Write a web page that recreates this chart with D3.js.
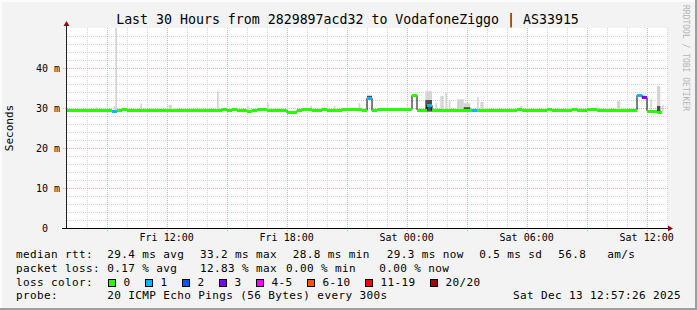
<!DOCTYPE html>
<html>
<head>
<meta charset="utf-8">
<script src="https://cdn.jsdelivr.net/npm/d3@7"></script>
<style>
  body { margin: 0; background: #fff; }
  svg { display: block; }
  text { font-family: "DejaVu Sans Mono", monospace; white-space: pre; }
</style>
</head>
<body>
<div id="chart"></div>
<script>
// smokeping style rtt graph, 30 hours

const title = "Last 30 Hours from 2829897acd32 to VodafoneZiggo | AS33915";
const startTime = new Date(Date.UTC(2025, 11, 12, 7, 1));
const endTime = new Date(Date.UTC(2025, 11, 13, 13, 1));

// median rtt (ms), one value per 15 minutes
const stepMin = 15;
const medianMs = [
  29.4, 29.4, 29.3, 29.4, 29.4, 29.4, 29.3, 29.4, 29.4, 29.1,
  29.4, 29.7, 29.4, 29.4, 29.4, 29.4, 29.4, 29.4, 29.4, 29.4,
  29.4, 29.4, 29.4, 29.4, 29.4, 29.4, 29.4, 29.4, 29.4, 29.4,
  29.4, 29.6, 29.4, 29.6, 29.4, 29.4, 29.2, 29.4, 29.6, 29.6,
  29.4, 29.4, 29.4, 29.4, 28.8, 29.0, 29.4, 29.6, 29.6, 29.4,
  29.4, 29.6, 29.4, 29.4, 29.4, 29.6, 29.6, 29.6, 29.6, 29.4,
  32.5, 29.3, 29.6, 29.6, 29.6, 29.6, 29.6, 29.6, 29.6, 33.2,
  29.5, 29.4, 30.7, 29.4, 29.4, 29.4, 29.4, 29.4, 29.4, 29.4,
  29.4, 29.3, 29.4, 29.4, 29.4, 29.4, 29.4, 29.4, 29.4, 29.4,
  29.6, 29.4, 29.4, 29.4, 29.4, 29.4, 29.6, 29.4, 29.4, 29.4,
  29.4, 29.6, 29.4, 29.4, 29.6, 29.6, 29.4, 29.4, 29.4, 29.4,
  29.5, 29.5, 29.5, 29.5, 33.2, 32.6, 29.2, 29.2, 29.0, null
];
// lost pings out of 20, same steps
const lossPings = [
  0, 0, 0, 0, 0, 0, 0, 0, 0, 1,
  0, 0, 0, 0, 0, 0, 0, 0, 0, 0,
  0, 0, 0, 0, 0, 0, 0, 0, 0, 0,
  0, 0, 0, 0, 0, 0, 0, 0, 0, 0,
  0, 0, 0, 0, 0, 0, 0, 0, 0, 0,
  0, 0, 0, 0, 0, 0, 0, 0, 0, 0,
  1, 0, 0, 0, 0, 0, 0, 0, 0, 0,
  0, 0, 1, 0, 0, 0, 0, 0, 0, 0,
  0, 1, 0, 0, 0, 0, 0, 0, 0, 0,
  0, 0, 0, 0, 0, 0, 0, 0, 0, 0,
  0, 0, 0, 0, 0, 0, 0, 0, 0, 0,
  0, 0, 0, 0, 1, 3, 0, 0, 0, 0
];

// smoke (spread of the 20 pings), only where it shows above the median
const smokeStep = 5;   // minutes per smoke slot
const smokeAt   = [17, 28, 29, 35, 44, 51, 61, 77, 80, 90, 108, 120, 126, 146, 160, 175, 177, 180,
                   212, 215, 221, 224, 227, 229, 234, 238, 246, 248, 272, 318, 330, 342, 350, 354, 357];
const smokeLen  = [1, 1, 1, 1, 1, 1, 2, 1, 1, 1, 1, 1, 1, 1, 1, 1, 1, 3,
                   1, 4, 1, 2, 1, 1, 4, 4, 1, 2, 1, 1, 2, 5, 1, 2, 1];
const smokeHi   = [30.3, 30.5, 55, 29.9, 31.1, 29.9, 30.8, 30.0, 30.0, 34.3, 30.5, 31.3, 30.0, 30.5, 30.5, 31.2, 30.0, 33.3,
                   29.9, 34.2, 31.2, 33.0, 33.9, 32.0, 32.2, 31.2, 32.8, 31.5, 30.5, 30.3, 31.7, 33.4, 32.3, 35.5, 30.8];
const smokeDark = [0, 0, 0, 0, 0, 0, 0, 0, 0, 0, 0, 0, 0, 0, 0, 0, 0, 33.0,
                   0, 32.0, 0, 0, 0, 0, 0, 30.2, 0, 0, 0, 0, 0, 0, 0, 30.5, 0];

const yTicks = [0, 10, 20, 30, 40];
const yTickLabels = ["0  ", "10 m", "20 m", "30 m", "40 m"];

const lossLabels = ["0", "1", "2", "3", "4-5", "6-10", "11-19", "20/20"];
const lossColors = ["#26ff00", "#00b8ff", "#0059ff", "#7e00ff", "#ff00ff", "#ff5500", "#ff0000", "#a10000"];

const rttStats = ["29.4 ms avg", "33.2 ms max", "28.8 ms min", "29.3 ms now", "0.5 ms sd", "56.8   am/s"];
const lossStats = ["0.17 % avg", "12.83 % max", "0.00 % min", "0.00 % now"];
const probeText = "20 ICMP Echo Pings (56 Bytes) every 300s";
const stampText = "Sat Dec 13 12:57:26 2025";

const width = 697, height = 310;
const plot = { left: 67, right: 667, top: 28, bottom: 228 };

const svg = d3.select("#chart").append("svg")
  .attr("width", width)
  .attr("height", height);

// ---------- frame ----------
svg.append("rect").attr("width", width).attr("height", height).attr("fill", "#f3f3f3");
svg.append("rect").attr("x", 0).attr("y", 0).attr("width", width).attr("height", 2).attr("fill", "#fcfcfc");
svg.append("rect").attr("x", 0).attr("y", 0).attr("width", 2).attr("height", height).attr("fill", "#fcfcfc");
svg.append("rect").attr("x", 0).attr("y", height - 2).attr("width", width).attr("height", 2).attr("fill", "#9e9e9e");
svg.append("rect").attr("x", width - 2).attr("y", 0).attr("width", 2).attr("height", height).attr("fill", "#9e9e9e");

svg.append("rect")
  .attr("x", plot.left).attr("y", plot.top)
  .attr("width", plot.right - plot.left + 1)
  .attr("height", plot.bottom - plot.top)
  .attr("fill", "#fff");

const x = d3.scaleUtc().domain([startTime, endTime]).range([plot.left, plot.right]);
const y = d3.scaleLinear().domain([0, 50]).range([plot.bottom, plot.top]);
const px = v => Math.round(v) + 0.5;

// ---------- grid ----------
const grid = svg.append("g").attr("stroke-dasharray", "1,1").attr("stroke-width", 1);

grid.selectAll("line.vmin")
  .data(d3.utcHour.every(1).range(startTime, endTime))
  .join("line")
  .attr("x1", d => px(x(d))).attr("x2", d => px(x(d)))
  .attr("y1", plot.top).attr("y2", plot.bottom)
  .attr("stroke", "#d2d2d2");

grid.selectAll("line.hmin")
  .data(d3.range(2, 50, 2).filter(v => v % 10 !== 0))
  .join("line")
  .attr("x1", plot.left).attr("x2", plot.right + 1)
  .attr("y1", d => px(y(d))).attr("y2", d => px(y(d)))
  .attr("stroke", "#d2d2d2");

grid.selectAll("line.vmaj")
  .data(d3.utcHour.every(3).range(startTime, endTime))
  .join("line")
  .attr("x1", d => px(x(d))).attr("x2", d => px(x(d)))
  .attr("y1", plot.top).attr("y2", plot.bottom + 3)
  .attr("stroke", "#f7a5a5");

grid.selectAll("line.hmaj")
  .data(yTicks.filter(v => v > 0))
  .join("line")
  .attr("x1", plot.left - 4).attr("x2", plot.right + 1)
  .attr("y1", d => px(y(d))).attr("y2", d => px(y(d)))
  .attr("stroke", "#f7a5a5");

// ---------- smoke ----------
const tAt = i => new Date(startTime.getTime() + i * stepMin * 60000);
const sAt = k => new Date(startTime.getTime() + k * smokeStep * 60000);
const medianAtSlot = k => {
  const i = Math.floor(k * smokeStep / stepMin);
  return medianMs[i] == null ? 29.4 : medianMs[i];
};

const smoke = smokeAt.map((k, j) => ({
  t0: sAt(k), t1: sAt(k + smokeLen[j]),
  lo: medianAtSlot(k) - 0.3,
  hi: smokeHi[j], dark: smokeDark[j]
}));

const smokeG = svg.append("g");
smokeG.selectAll("rect.light")
  .data(smoke)
  .join("rect")
  .attr("x", d => x(d.t0))
  .attr("width", d => x(d.t1) - x(d.t0))
  .attr("y", d => Math.max(plot.top, y(d.hi)))
  .attr("height", d => y(d.lo) - Math.max(plot.top, y(d.hi)))
  .attr("fill", "#d4d4d4");

smokeG.selectAll("rect.dark")
  .data(smoke.filter(d => d.dark > 0))
  .join("rect")
  .attr("x", d => x(d.t0))
  .attr("width", d => x(d.t1) - x(d.t0))
  .attr("y", d => y(d.dark))
  .attr("height", d => y(d.lo) - y(d.dark))
  .attr("fill", "#4d4d4d");

// ---------- median ----------
const samples = medianMs.map((m, i) => ({ t0: tAt(i), t1: tAt(i + 1), m, loss: lossPings[i] }))
  .filter(d => d.m != null);

const steps = [];
samples.forEach(d => { steps.push([d.t0, d.m]); steps.push([d.t1, d.m]); });

svg.append("path")
  .datum(steps)
  .attr("fill", "none")
  .attr("stroke", "#000")
  .attr("stroke-width", 1)
  .attr("d", d3.line().x(d => x(d[0])).y(d => y(d[1])));

const lossBin = n => n === 0 ? 0 : n === 1 ? 1 : n === 2 ? 2 : n === 3 ? 3 :
  n <= 5 ? 4 : n <= 10 ? 5 : n <= 19 ? 6 : 7;

svg.append("g")
  .selectAll("rect")
  .data(samples)
  .join("rect")
  .attr("x", d => x(d.t0))
  .attr("width", d => x(d.t1) - x(d.t0))
  .attr("y", d => y(d.m) - 1.5)
  .attr("height", 3)
  .attr("fill", d => lossColors[lossBin(d.loss)])
  .attr("shape-rendering", "crispEdges");

// ---------- axes ----------
svg.append("line")
  .attr("x1", plot.left - 0.5).attr("x2", plot.left - 0.5)
  .attr("y1", plot.bottom + 0.5).attr("y2", plot.top - 4)
  .attr("stroke", "#222");
svg.append("line")
  .attr("x1", plot.left - 3).attr("x2", plot.right + 3)
  .attr("y1", plot.bottom + 0.5).attr("y2", plot.bottom + 0.5)
  .attr("stroke", "#000");
svg.append("line")
  .attr("x1", plot.left - 5).attr("x2", plot.left)
  .attr("y1", plot.bottom + 0.5).attr("y2", plot.bottom + 0.5)
  .attr("stroke", "#000");

svg.append("path")
  .attr("d", `M${plot.left - 0.5},${plot.top - 7} l3,5 h-6 z`)
  .attr("fill", "#8b1010");
svg.append("path")
  .attr("d", `M${plot.right + 6},${plot.bottom + 0.5} l-5,-3 v6 z`)
  .attr("fill", "#8b1010");

// y labels
svg.append("g")
  .selectAll("text")
  .data(yTicks)
  .join("text")
  .attr("x", 60)
  .attr("y", d => y(d) + 3.5)
  .attr("text-anchor", "end")
  .attr("font-size", "10px")
  .attr("fill", "#000")
  .text((d, i) => yTickLabels[i]);

// x labels
svg.append("g")
  .selectAll("text")
  .data(d3.utcHour.every(6).range(startTime, endTime))
  .join("text")
  .attr("x", d => x(d))
  .attr("y", 241)
  .attr("text-anchor", "middle")
  .attr("font-size", "10px")
  .attr("fill", "#000")
  .text(d3.utcFormat("%a %H:%M"));

svg.append("text")
  .attr("transform", "translate(13,128) rotate(-90)")
  .attr("text-anchor", "middle")
  .attr("font-size", "11px")
  .attr("fill", "#000")
  .text("Seconds");

// title
svg.append("text")
  .attr("x", 347.5)
  .attr("y", 24)
  .attr("text-anchor", "middle")
  .attr("font-size", "13.25px")
  .attr("fill", "#000")
  .text(title);

// watermark
svg.append("text")
  .attr("transform", "translate(683,5) rotate(90)")
  .attr("font-size", "8px")
  .attr("fill", "#b4b4b4")
  .text("RRDTOOL / TOBI OETIKER");

// ---------- legend ----------
const legend = svg.append("g")
  .attr("font-size", "11px")
  .attr("letter-spacing", "0.38px")
  .attr("fill", "#000");

const rowY = [258, 272, 285.5, 298.5];
const addText = (tx, ty, s) => legend.append("text").attr("x", tx).attr("y", ty).text(s);

addText(16, rowY[0], "median rtt:");
const rttX = [107.3, 200, 292.7, 386.7, 479.3, 558.3];
rttStats.forEach((s, i) => addText(rttX[i], rowY[0], s));

addText(16, rowY[1], "packet loss:");
const lossX = [107.3, 200, 286, 379.3];
lossStats.forEach((s, i) => addText(lossX[i], rowY[1], s));

addText(16, rowY[2], "loss color:");
let lx = 108.5;
lossLabels.forEach((s, i) => {
  legend.append("rect")
    .attr("x", lx).attr("y", 279.5)
    .attr("width", 7).attr("height", 7)
    .attr("fill", lossColors[i])
    .attr("stroke", "#000");
  addText(lx + 15, rowY[2], s);
  lx += 15 + s.length * 7 + 15;
});

addText(16, rowY[3], "probe:");
addText(107.3, rowY[3], probeText);
addText(681, rowY[3], stampText).attr("text-anchor", "end");
</script>
</body>
</html>
